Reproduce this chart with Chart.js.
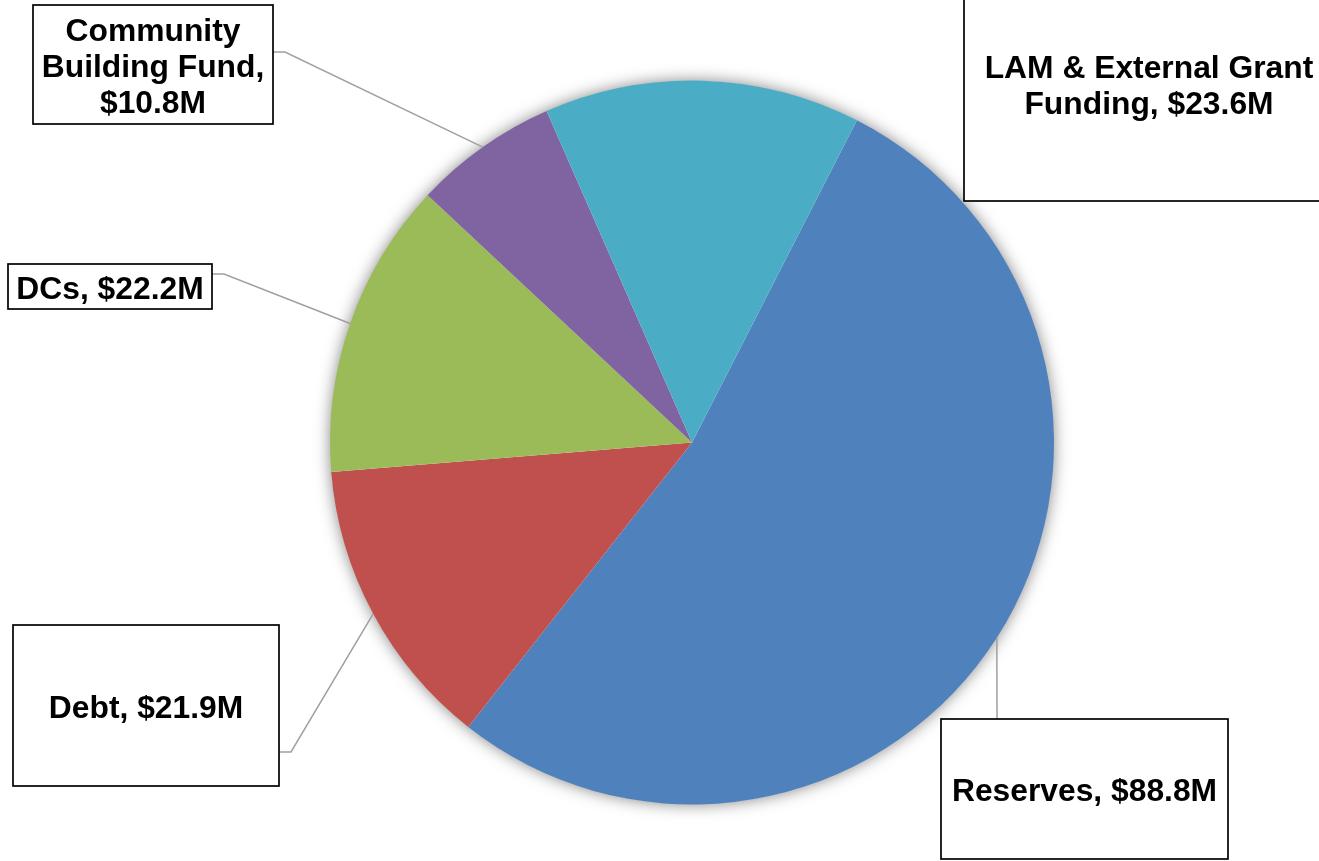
<!DOCTYPE html>
<html>
<head>
<meta charset="utf-8">
<title>Capital Funding Sources</title>
<script src="https://cdn.jsdelivr.net/npm/chart.js@4/dist/chart.umd.min.js"></script>
<style>
  html, body { margin: 0; padding: 0; background: #ffffff; }
  #wrap { width: 1319px; height: 861px; position: relative; }
</style>
</head>
<body>
<div id="wrap"><canvas id="pie" width="1319" height="861"></canvas></div>
<script>
// Funding sources ($ millions)
const categories = ['Reserves', 'Debt', 'DCs', 'Community Building Fund', 'LAM & External Grant Funding'];
const amounts = [88.8, 21.9, 22.2, 10.8, 23.6];
const sliceColors = ['#4F81BD', '#C0504D', '#9BBB59', '#8064A2', '#4BACC6'];

// Callout boxes: rectangle, wrap width and the elbow where the leader line leaves the box
const callouts = [
  { box: [941, 719, 287, 140], wrap: 280, elbow: [[997, 719]] },
  { box: [13, 625, 266, 161],  wrap: 250, elbow: [[279, 752], [291, 752]] },
  { box: [8, 264, 204, 45],    wrap: 200, elbow: [[212, 274], [224, 274]] },
  { box: [33, 5, 240, 119],    wrap: 225, elbow: [[273, 52], [285, 52]] },
  { box: [964, -34, 370, 235], wrap: 345, elbow: null }
];

const FONT = 'bold 31.8px "Liberation Sans", Arial, sans-serif';
const LINE_H = 36;

function wrapText(ctx, text, maxW) {
  const words = text.split(' ');
  const lines = [];
  let cur = '';
  for (const w of words) {
    const t = cur ? cur + ' ' + w : w;
    if (cur && ctx.measureText(t).width > maxW) { lines.push(cur); cur = w; }
    else cur = t;
  }
  if (cur) lines.push(cur);
  return lines;
}

// Soft glow behind the pie
const pieGlow = {
  id: 'pieGlow',
  beforeDatasetsDraw(chart) {
    const arc = chart.getDatasetMeta(0).data[0];
    if (!arc) return;
    const ctx = chart.ctx;
    ctx.save();
    ctx.shadowColor = 'rgba(0,0,0,0.5)';
    ctx.shadowBlur = 16;
    ctx.fillStyle = '#ffffff';
    ctx.beginPath();
    ctx.arc(arc.x, arc.y, arc.outerRadius - 0.5, 0, Math.PI * 2);
    ctx.fill();
    ctx.restore();
  }
};

// Leader lines and boxed labels
const callout = {
  id: 'callout',
  afterDatasetsDraw(chart) {
    const ctx = chart.ctx;
    const meta = chart.getDatasetMeta(0);
    ctx.save();
    ctx.font = FONT;
    meta.data.forEach((arc, i) => {
      const c = callouts[i];
      const mid = (arc.startAngle + arc.endAngle) / 2;
      const ax = arc.x + Math.cos(mid) * arc.outerRadius;
      const ay = arc.y + Math.sin(mid) * arc.outerRadius;

      if (c.elbow) {
        ctx.strokeStyle = '#A0A0A0';
        ctx.lineWidth = 1.5;
        ctx.beginPath();
        ctx.moveTo(c.elbow[0][0], c.elbow[0][1]);
        for (let k = 1; k < c.elbow.length; k++) ctx.lineTo(c.elbow[k][0], c.elbow[k][1]);
        ctx.lineTo(ax, ay);
        ctx.stroke();
      }

      const [bx, by, bw, bh] = c.box;
      ctx.fillStyle = '#ffffff';
      ctx.fillRect(bx, by, bw, bh);
      ctx.strokeStyle = '#000000';
      ctx.lineWidth = 1.7;
      ctx.strokeRect(bx, by, bw, bh);

      const text = categories[i] + ', $' + amounts[i].toFixed(1) + 'M';
      const lines = wrapText(ctx, text, c.wrap);
      const cx = bx + bw / 2;
      const cy = by + bh / 2;
      ctx.fillStyle = '#000000';
      ctx.textAlign = 'center';
      ctx.textBaseline = 'alphabetic';
      const first = cy - (lines.length - 1) * LINE_H / 2;
      lines.forEach((ln, k) => {
        ctx.fillText(ln, cx, first + k * LINE_H + 12);
      });
    });
    ctx.restore();
  }
};

new Chart(document.getElementById('pie'), {
  type: 'pie',
  data: {
    labels: categories,
    datasets: [{
      data: amounts,
      backgroundColor: sliceColors,
      borderWidth: 0,
      hoverOffset: 0
    }]
  },
  options: {
    responsive: false,
    animation: false,
    rotation: 27.1,
    layout: { padding: { top: 80.5, bottom: 56.5, left: 330, right: 265 } },
    plugins: {
      legend: { display: false },
      tooltip: { enabled: false },
      title: { display: false }
    }
  },
  plugins: [pieGlow, callout]
});
</script>
</body>
</html>
